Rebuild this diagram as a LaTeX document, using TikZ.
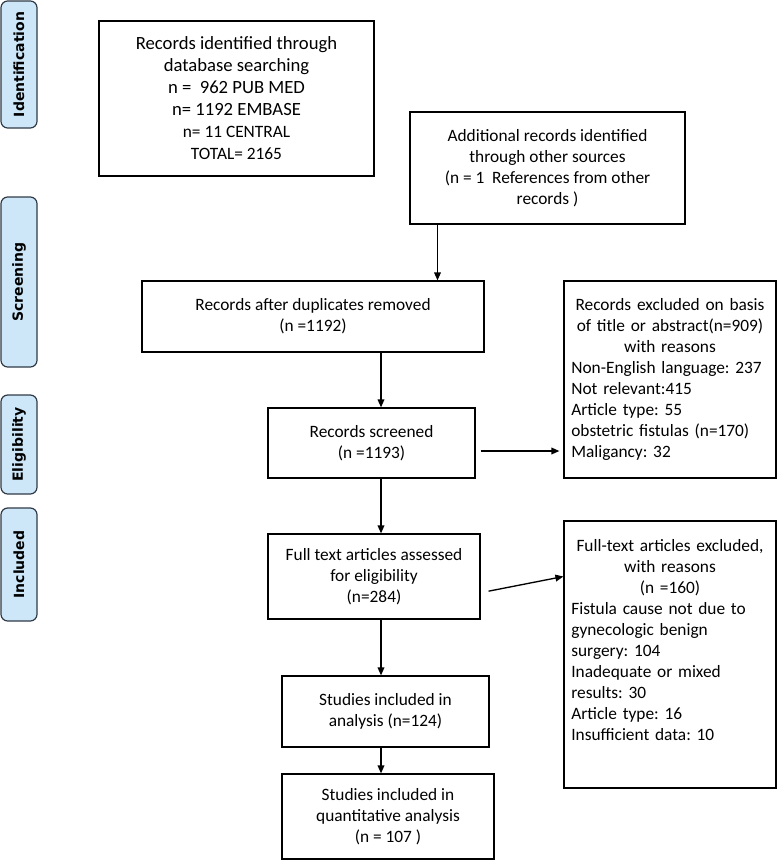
\documentclass[tikz,border=0pt]{standalone}
\usepackage{fontspec}
\setmainfont{Carlito}
\newfontfamily\stagefont{DejaVu Sans}
\usetikzlibrary{arrows.meta}
\frenchspacing

\begin{document}
\begin{tikzpicture}[x=0.75pt,y=-0.75pt,
  box/.style 2 args={draw=black,line width=0.9pt,minimum width=#1*0.75pt,minimum height=#2*0.75pt,inner sep=0pt,align=center,font=\fontsize{13}{15.75}\selectfont},
  listbox/.style 2 args={box={#1}{#2},text width=148pt,align=left},
  stagebox/.style={draw=stageline,fill=stageblue,rounded corners=5pt,line width=0.9pt,rotate=90,minimum height=27pt,inner sep=0pt,font=\stagefont\bfseries\fontsize{10.5}{12}\selectfont},
  arr/.style={-{Triangle[length=6pt,width=5pt]},line width=1pt}]
\definecolor{stageblue}{HTML}{CDE7F9}
\definecolor{stageline}{HTML}{2F3A46}
\useasboundingbox (0,0) rectangle (777,860);
% stage labels on the left
\foreach \stage/\ya/\yb in {Identification/1/128,Screening/197/367,Eligibility/395/494,Included/508/621}
  {\node [stagebox,minimum width={(\yb-\ya)*0.75pt}] (\stage) at (19,{(\ya+\yb)/2}) {\stage};}
% flow boxes
\node [box={275}{155},font=\fontsize{14}{16.5}\selectfont] (ident) at (236.5,98.5)
  {Records identified through\\ database searching\\ n = \ 962 PUB MED\\ n= 1192 EMBASE\\
   {\fontsize{13}{16}\selectfont n= 11 CENTRAL}\\ {\fontsize{13}{16}\selectfont TOTAL= 2165}};
\node [box={275}{112}] (addl) at (547.5,168)
  {Additional records identified\\ through other sources\\ (n = 1 \ References from other\\ records )};
\node [box={342}{71}] (dup) at (313,316.5) {Records after duplicates removed\\ (n =1192)};
\node [listbox={212}{197}] (excl) at (670,379.5)
  {\centering Records excluded on basis\\ of title or abstract(n=909)\\ with reasons\par
   \raggedright Non-English language: 237\\ Not relevant:415\\ Article type: 55\\
   obstetric fistulas (n=170)\\ Maligancy: 32};
\node [box={207}{70}] (scr) at (371.5,443) {Records screened\\ (n =1193)};
\node [box={212}{85}] (full) at (374,576.5) {Full text articles assessed\\ for eligibility\\ (n=284)};
\node [listbox={212}{267}] (fexcl) at (670,654.5)
  {\centering Full-text articles excluded,\\ with reasons\\ (n =160)\par
   \raggedright Fistula cause not due to\\ gynecologic benign\\ surgery: 104\\
   Inadequate or mixed\\ results: 30\\ Article type: 16\\ Insufficient data: 10\par
   \rule{0pt}{21pt}};
\node [box={207}{71}] (incl) at (385.5,711.5) {Studies included in\\ analysis (n=124)};
\node [box={212}{85}] (quant) at (388,816.5) {Studies included in\\ quantitative analysis\\ (n = 107 )};
% connectors
\coordinate (drop) at (437.5,0);
\coordinate (spine) at (381,0);
\draw[arr] (drop |- addl.south) -- (drop |- dup.north);
\draw[arr] (spine |- dup.south) -- (spine |- scr.north);
\draw[arr] (spine |- scr.south) -- (spine |- full.north);
\draw[arr] (spine |- full.south) -- (spine |- incl.north);
\draw[arr] (spine |- incl.south) -- (spine |- quant.north);
\coordinate (scrout) at ([xshift=3.75pt,yshift=-6pt]scr.east);
\draw[arr,shorten >=3pt] (scrout) -- (scrout -| excl.west);
\coordinate (fullout) at ([xshift=6pt,yshift=-11pt]full.east);
\draw[arr] (fullout) -- (full.east -| fexcl.west);
\end{tikzpicture}
\end{document}
